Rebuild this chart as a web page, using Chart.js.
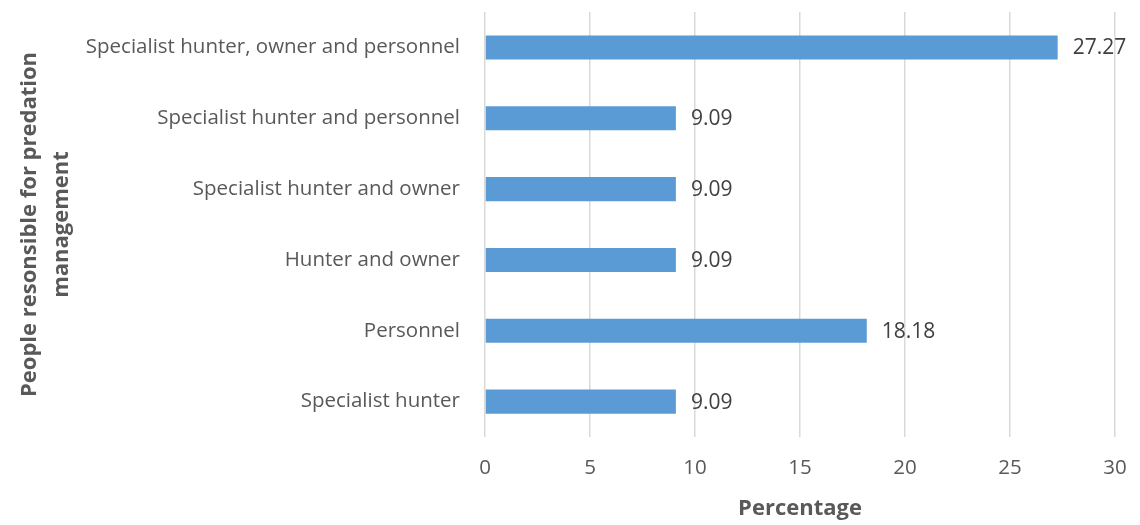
<!DOCTYPE html>
<html>
<head>
<meta charset="utf-8">
<script src="https://cdn.jsdelivr.net/npm/chart.js@4.4.1/dist/chart.umd.min.js"></script>
<style>
  html, body { margin: 0; padding: 0; background: #fff; }
  #wrap { width: 1140px; height: 525px; position: relative; }
</style>
</head>
<body>
<div id="wrap"><canvas id="predationChart"></canvas></div>
<script>
// Who handles predation management, share of respondents (%)
const categories = [
    'Specialist hunter, owner and personnel',
    'Specialist hunter and personnel',
    'Specialist hunter and owner',
    'Hunter and owner',
    'Personnel',
    'Specialist hunter'
];
const percentages = [27.27, 9.09, 9.09, 9.09, 18.18, 9.09];
const xTicks = [0, 5, 10, 15, 20, 25, 30];

const FONT = '"Open Sans", Lato, sans-serif';
const TEXT = '#595959';
const LABEL_SIZE = 20.5;

// value labels to the right of each bar
const barValueLabels = {
    id: 'barValueLabels',
    afterDatasetsDraw(chart) {
        const ctx = chart.ctx;
        const meta = chart.getDatasetMeta(0);
        ctx.save();
        ctx.font = '21px ' + FONT;
        ctx.fillStyle = '#404040';
        ctx.textAlign = 'left';
        ctx.textBaseline = 'middle';
        meta.data.forEach((bar, i) => {
            ctx.fillText(percentages[i].toFixed(2), bar.x + 15, bar.y + 1);
        });
        ctx.restore();
    }
};

const ctx = document.getElementById('predationChart').getContext('2d');
const predationChart = new Chart(ctx, {
    type: 'bar',
    data: {
        labels: categories,
        datasets: [{
            data: percentages,
            backgroundColor: '#5B9BD5',
            borderWidth: 0,
            categoryPercentage: 1,
            barPercentage: 0.34
        }]
    },
    options: {
        indexAxis: 'y',
        responsive: true,
        maintainAspectRatio: false,
        animation: false,
        layout: { padding: { top: 12, right: 25, left: 0, bottom: 0 } },
        plugins: {
            legend: { display: false },
            tooltip: { enabled: false }
        },
        scales: {
            x: {
                min: 0,
                max: 30,
                afterBuildTicks(scale) {
                    scale.ticks = xTicks.map(v => ({ value: v }));
                },
                afterFit(scale) {
                    scale.height = 88;
                    scale.paddingLeft = 0;
                    scale.paddingRight = 0;
                },
                grid: { color: '#d9d9d9', lineWidth: 1.5, drawTicks: false },
                border: { display: false },
                ticks: {
                    padding: 19,
                    color: TEXT,
                    font: { family: FONT, size: LABEL_SIZE }
                },
                title: {
                    display: true,
                    text: 'Percentage',
                    color: TEXT,
                    padding: { top: 0, bottom: 3 },
                    font: { family: FONT, size: 22, weight: 'bold' }
                }
            },
            y: {
                afterFit(scale) {
                    scale.width = 485;
                    scale.paddingTop = 0;
                    scale.paddingBottom = 0;
                },
                grid: { display: false, drawTicks: false },
                border: { display: false },
                ticks: {
                    padding: 25,
                    color: TEXT,
                    font: { family: FONT, size: LABEL_SIZE }
                },
                title: {
                    display: true,
                    text: ['People resonsible for predation', 'management'],
                    color: TEXT,
                    padding: { top: 14, bottom: 0 },
                    font: { family: FONT, size: 22, weight: 'bold', lineHeight: 1.45 }
                }
            }
        }
    },
    plugins: [barValueLabels]
});
</script>
</body>
</html>
